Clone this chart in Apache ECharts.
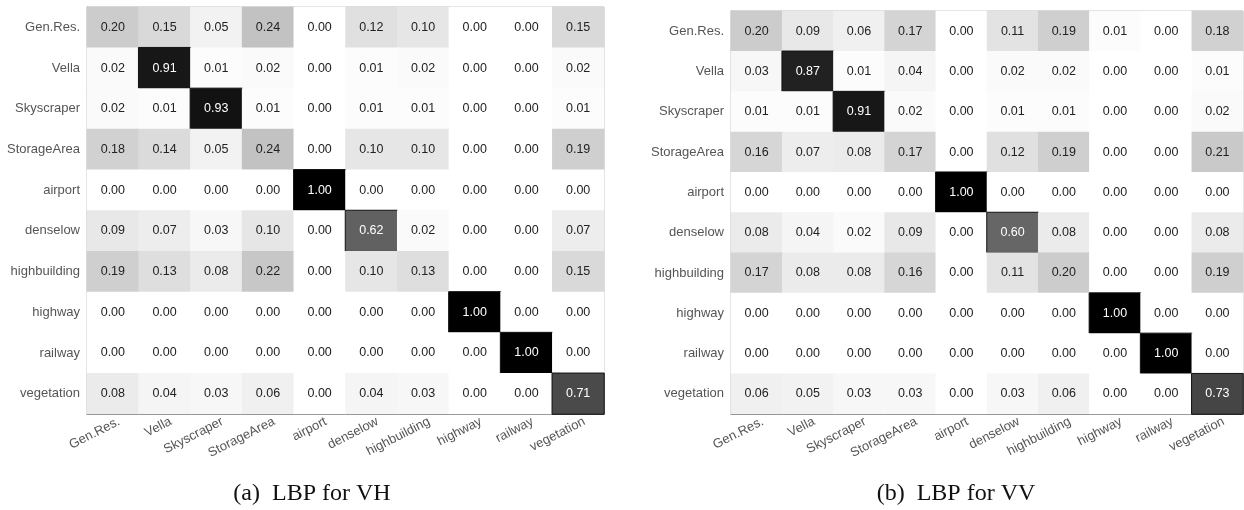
<!DOCTYPE html>
<html>
<head>
<meta charset="utf-8">
<script src="https://cdn.jsdelivr.net/npm/echarts@6/dist/echarts.min.js"></script>
<style>html,body{margin:0;padding:0;background:#fff}#c{width:1244px;height:510px}</style>
</head>
<body>
<div id="c"></div>
<script>
const categories = ['Gen.Res.','Vella','Skyscraper','StorageArea','airport','denselow','highbuilding','highway','railway','vegetation'];

const vhMatrix = [
  [0.20,0.15,0.05,0.24,0.00,0.12,0.10,0.00,0.00,0.15],
  [0.02,0.91,0.01,0.02,0.00,0.01,0.02,0.00,0.00,0.02],
  [0.02,0.01,0.93,0.01,0.00,0.01,0.01,0.00,0.00,0.01],
  [0.18,0.14,0.05,0.24,0.00,0.10,0.10,0.00,0.00,0.19],
  [0.00,0.00,0.00,0.00,1.00,0.00,0.00,0.00,0.00,0.00],
  [0.09,0.07,0.03,0.10,0.00,0.62,0.02,0.00,0.00,0.07],
  [0.19,0.13,0.08,0.22,0.00,0.10,0.13,0.00,0.00,0.15],
  [0.00,0.00,0.00,0.00,0.00,0.00,0.00,1.00,0.00,0.00],
  [0.00,0.00,0.00,0.00,0.00,0.00,0.00,0.00,1.00,0.00],
  [0.08,0.04,0.03,0.06,0.00,0.04,0.03,0.00,0.00,0.71]
];

const vvMatrix = [
  [0.20,0.09,0.06,0.17,0.00,0.11,0.19,0.01,0.00,0.18],
  [0.03,0.87,0.01,0.04,0.00,0.02,0.02,0.00,0.00,0.01],
  [0.01,0.01,0.91,0.02,0.00,0.01,0.01,0.00,0.00,0.02],
  [0.16,0.07,0.08,0.17,0.00,0.12,0.19,0.00,0.00,0.21],
  [0.00,0.00,0.00,0.00,1.00,0.00,0.00,0.00,0.00,0.00],
  [0.08,0.04,0.02,0.09,0.00,0.60,0.08,0.00,0.00,0.08],
  [0.17,0.08,0.08,0.16,0.00,0.11,0.20,0.00,0.00,0.19],
  [0.00,0.00,0.00,0.00,0.00,0.00,0.00,1.00,0.00,0.00],
  [0.00,0.00,0.00,0.00,0.00,0.00,0.00,0.00,1.00,0.00],
  [0.06,0.05,0.03,0.03,0.00,0.03,0.06,0.00,0.00,0.73]
];

const captions = ['(a)  LBP for VH', '(b)  LBP for VV'];

function toData(m) {
  const out = [];
  m.forEach((row, r) => row.forEach((v, c) => {
    const dark = v > 0.5;
    out.push({
      value: [c, r, v],
      label: { color: dark ? '#fff' : '#222' },
      itemStyle: dark ? { borderColor: '#111', borderWidth: 1 } : {}
    });
  }));
  return out;
}

const font = 'Liberation Sans, Arial, sans-serif';
const grids = [
  { left: 87, right: 640, top: 7, bottom: 96 },
  { left: 731, right: 1, top: 11, bottom: 96 }
];

function xAxis(i) {
  return {
    type: 'category', gridIndex: i, data: categories,
    axisLine: { show: true, lineStyle: { color: '#777', width: 1 } },
    axisTick: { show: false },
    axisLabel: { rotate: 27, color: '#555', fontSize: 13, fontFamily: font, margin: 10, interval: 0, padding: [0, -7, 0, 0] },
    splitLine: { show: false }
  };
}
function yAxis(i) {
  return {
    type: 'category', gridIndex: i, data: categories, inverse: true,
    axisLine: { show: true, lineStyle: { color: '#777', width: 1 } },
    axisTick: { show: false },
    axisLabel: { color: '#555', fontSize: 13, fontFamily: font, margin: 7, interval: 0 },
    splitLine: { show: false }
  };
}

function series(i, m) {
  return {
    type: 'heatmap', xAxisIndex: i, yAxisIndex: i,
    data: toData(m),
    label: { show: true, fontSize: 12.5, fontFamily: font, formatter: p => p.value[2].toFixed(2) },
    emphasis: { disabled: true }
  };
}

const chart = echarts.init(document.getElementById('c'), null, { renderer: 'canvas' });
chart.setOption({
  animation: false,
  grid: grids.map(g => Object.assign({ show: true, borderColor: '#bbb', borderWidth: 1, backgroundColor: 'transparent' }, g)),
  xAxis: [xAxis(0), xAxis(1)],
  yAxis: [yAxis(0), yAxis(1)],
  visualMap: [0, 1].map(i => ({
    show: false, min: 0, max: 1, seriesIndex: i, dimension: 2,
    inRange: { color: ['#ffffff', '#000000'] }
  })),
  series: [series(0, vhMatrix), series(1, vvMatrix)],
  graphic: [
    { type: 'text', x: 312, y: 494, style: { text: captions[0], font: '24px "Liberation Serif", "Times New Roman", serif', fill: '#111', align: 'center', verticalAlign: 'middle' } },
    { type: 'text', x: 956, y: 494, style: { text: captions[1], font: '24px "Liberation Serif", "Times New Roman", serif', fill: '#111', align: 'center', verticalAlign: 'middle' } }
  ]
});
</script>
</body>
</html>
